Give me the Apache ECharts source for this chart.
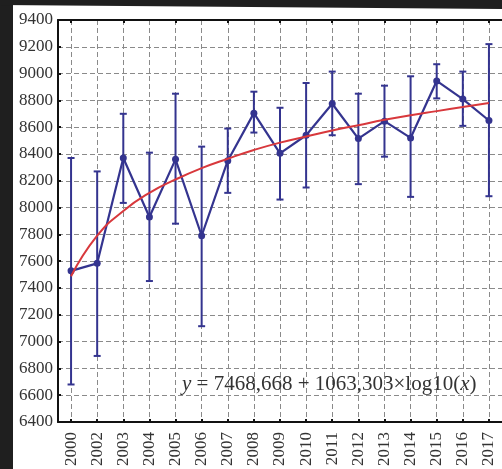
<!DOCTYPE html>
<html>
<head>
<meta charset="utf-8">
<script src="https://cdn.jsdelivr.net/npm/echarts@6/dist/echarts.min.js"></script>
<style>
html,body{margin:0;padding:0;background:#fff;}
#c{width:502px;height:469px;}
</style>
</head>
<body>
<div id="c"></div>
<script>
var years = ['2000','2002','2003','2004','2005','2006','2007','2008','2009','2010','2011','2012','2013','2014','2015','2016','2017'];
var means = [7528, 7584, 8370, 7930, 8360, 7790, 8350, 8705, 8405, 8540, 8775, 8515, 8645, 8520, 8945, 8810, 8650];
var upper = [8370, 8270, 8700, 8410, 8850, 8455, 8590, 8865, 8745, 8930, 9015, 8850, 8910, 8980, 9070, 9015, 9220];
var lower = [6680, 6893, 8035, 7452, 7880, 7115, 8110, 8560, 8060, 8150, 8540, 8175, 8380, 8080, 8815, 8610, 8085];
var trend = [7488, 7790, 7975, 8110, 8210, 8295, 8365, 8430, 8485, 8530, 8575, 8615, 8655, 8690, 8720, 8750, 8780];
var yTicks = {min: 6400, max: 9400, step: 200};
var equation = ['y', ' = 7468,668 + 1063,303\u00d7log10(', 'x', ')'];

var serif = 'Liberation Serif';
var navy = '#34348f';
var gridLine = {color: '#8a8a8a', type: [5, 3], width: 1};

var chart = echarts.init(document.getElementById('c'), null, {renderer: 'canvas'});

var errData = years.map(function (y, i) { return [i, lower[i], upper[i]]; });

chart.setOption({
  animation: false,
  backgroundColor: '#fff',
  grid: {left: 58, top: 20, width: 448, height: 407, containLabel: false},
  xAxis: [{
    type: 'category',
    data: years,
    boundaryGap: true,
    position: 'bottom',
    axisLine: {show: true, lineStyle: {color: '#111', width: 2}},
    axisTick: {show: true, inside: true, alignWithLabel: true, length: 3, lineStyle: {color: '#111', width: 2}},
    axisLabel: {rotate: 90, fontFamily: serif, fontSize: 17, color: '#333', margin: 10, interval: 0},
    splitLine: {show: true, alignWithLabel: true, interval: 0, lineStyle: gridLine}
  }, {
    type: 'category',
    data: years,
    boundaryGap: true,
    position: 'top',
    axisLine: {show: true, lineStyle: {color: '#111', width: 2}},
    axisTick: {show: true, inside: true, alignWithLabel: true, length: 3, lineStyle: {color: '#111', width: 2}},
    axisLabel: {show: false},
    splitLine: {show: false}
  }],
  yAxis: {
    type: 'value',
    min: yTicks.min, max: yTicks.max, interval: yTicks.step,
    axisLine: {show: true, lineStyle: {color: '#111', width: 2}},
    axisTick: {show: true, inside: true, length: 3, lineStyle: {color: '#111', width: 2}},
    axisLabel: {fontFamily: serif, fontSize: 17, color: '#333', margin: 5, formatter: function (v) { return String(v); }},
    splitLine: {show: true, lineStyle: gridLine}
  },
  series: [{
    type: 'custom',
    z: 3,
    data: errData,
    renderItem: function (params, api) {
      var x = api.value(0);
      var lo = api.coord([x, api.value(1)]);
      var hi = api.coord([x, api.value(2)]);
      var cap = 3.5;
      var st = {stroke: navy, lineWidth: 2};
      return {type: 'group', children: [
        {type: 'line', shape: {x1: lo[0], y1: lo[1], x2: hi[0], y2: hi[1]}, style: st},
        {type: 'line', shape: {x1: hi[0]-cap, y1: hi[1], x2: hi[0]+cap, y2: hi[1]}, style: st},
        {type: 'line', shape: {x1: lo[0]-cap, y1: lo[1], x2: lo[0]+cap, y2: lo[1]}, style: st}
      ]};
    }
  }, {
    type: 'line',
    z: 4,
    data: means,
    symbol: 'circle',
    symbolSize: 7,
    itemStyle: {color: navy},
    lineStyle: {color: navy, width: 2.2}
  }, {
    type: 'line',
    z: 5,
    data: trend,
    smooth: true,
    symbol: 'none',
    lineStyle: {color: '#d8383c', width: 2}
  }],
  graphic: [{
    type: 'rect', left: 0, top: 0, z: 100,
    shape: {x: 0, y: 0, width: 13, height: 469},
    style: {fill: '#1f1f1f'}
  }, {
    type: 'polygon', z: 100,
    shape: {points: [[0, 0], [502, 0], [502, 9], [0, 5]]},
    style: {fill: '#1f1f1f'}
  }, {
    type: 'text', z: 50,
    x: 182, y: 374,
    style: {
      text: '{i|' + equation[0] + '}{n|' + equation[1] + '}{i|' + equation[2] + '}{n|' + equation[3] + '}',
      rich: {
        i: {fontFamily: serif, fontStyle: 'italic', fontSize: 21, fill: '#333'},
        n: {fontFamily: serif, fontSize: 21, fill: '#333'}
      }
    }
  }]
});
</script>
</body>
</html>
